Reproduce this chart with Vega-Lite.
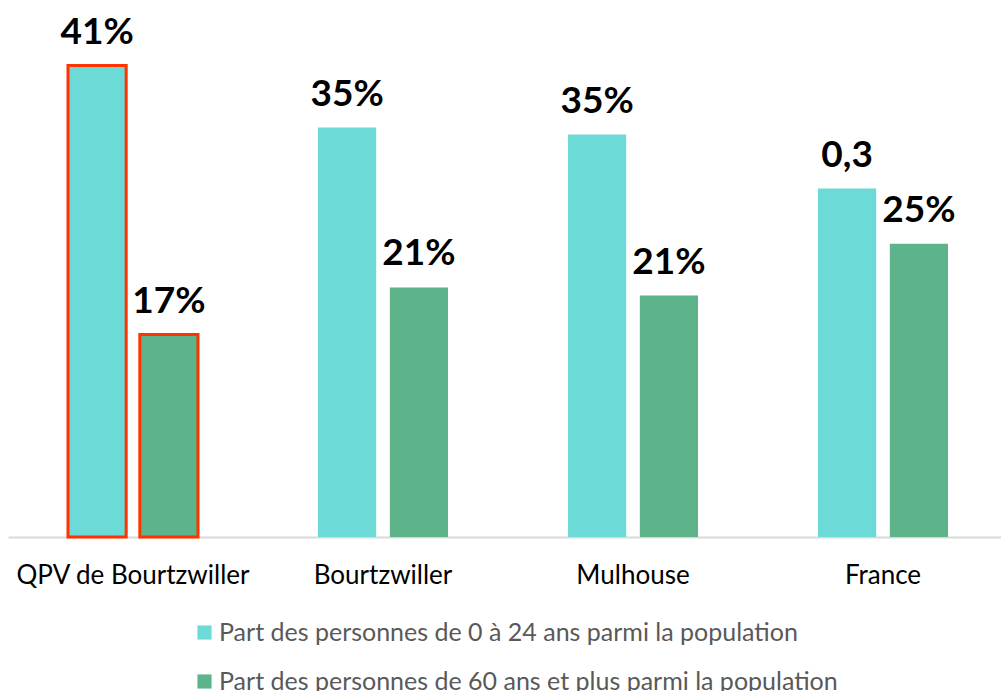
{
  "$schema": "https://vega.github.io/schema/vega-lite/v6.json",
  "autosize": {"type": "none"},
  "padding": {"left": 8, "top": 8, "right": 0, "bottom": 154},
  "width": 1000,
  "height": 529,
  "background": "white",
  "config": {"view": {"stroke": null}, "font": "Lato"},
  "data": {"values": [
    {"zone": "QPV de Bourtzwiller", "serie": "Part des personnes de 0 à 24 ans parmi la population", "valeur": 0.410, "label": "41%"},
    {"zone": "QPV de Bourtzwiller", "serie": "Part des personnes de 60 ans et plus parmi la population", "valeur": 0.176, "label": "17%"},
    {"zone": "Bourtzwiller", "serie": "Part des personnes de 0 à 24 ans parmi la population", "valeur": 0.356, "label": "35%"},
    {"zone": "Bourtzwiller", "serie": "Part des personnes de 60 ans et plus parmi la population", "valeur": 0.217, "label": "21%"},
    {"zone": "Mulhouse", "serie": "Part des personnes de 0 à 24 ans parmi la population", "valeur": 0.350, "label": "35%"},
    {"zone": "Mulhouse", "serie": "Part des personnes de 60 ans et plus parmi la population", "valeur": 0.210, "label": "21%"},
    {"zone": "France", "serie": "Part des personnes de 0 à 24 ans parmi la population", "valeur": 0.303, "label": "0,3"},
    {"zone": "France", "serie": "Part des personnes de 60 ans et plus parmi la population", "valeur": 0.255, "label": "25%"}
  ]},
  "encoding": {
    "x": {"field": "zone", "type": "nominal", "sort": null,
      "scale": {"paddingInner": 0.48, "paddingOuter": 0.24},
      "axis": {"title": null, "labelAngle": 0, "labelFont": "Lato", "labelFontSize": 26, "labelColor": "#000000", "labelLimit": 0,
        "labelPadding": 38, "ticks": false, "domainColor": "#D9D9D9", "domainWidth": 2, "labelBaseline": "middle"}},
    "xOffset": {"field": "serie", "type": "nominal", "scale": {"paddingInner": 0.19, "paddingOuter": 0}},
    "y": {"field": "valeur", "type": "quantitative", "scale": {"domain": [0, 0.46], "nice": false}, "axis": null}
  },
  "layer": [
    {
      "mark": {"type": "bar", "strokeWidth": 3},
      "encoding": {
        "color": {"field": "serie", "type": "nominal",
          "scale": {"range": ["#6CDAD6", "#5DB48A"]},
          "legend": {"title": null, "orient": "none", "legendX": 184, "legendY": 612, "direction": "vertical", "labelLimit": 0,
            "symbolType": "square", "symbolSize": 200, "symbolStrokeWidth": 0, "labelFont": "Lato", "labelFontSize": 25,
            "labelColor": "#595959", "rowPadding": 23, "labelOffset": 2}},
        "stroke": {"condition": {"test": "datum.zone === 'QPV de Bourtzwiller'", "value": "#FF3300"}, "value": null}
      }
    },
    {
      "mark": {"type": "text", "font": "Lato", "fontWeight": "bold", "fontSize": 37, "color": "#000000", "baseline": "alphabetic", "dy": -22},
      "encoding": {"text": {"field": "label"}}
    }
  ]
}
